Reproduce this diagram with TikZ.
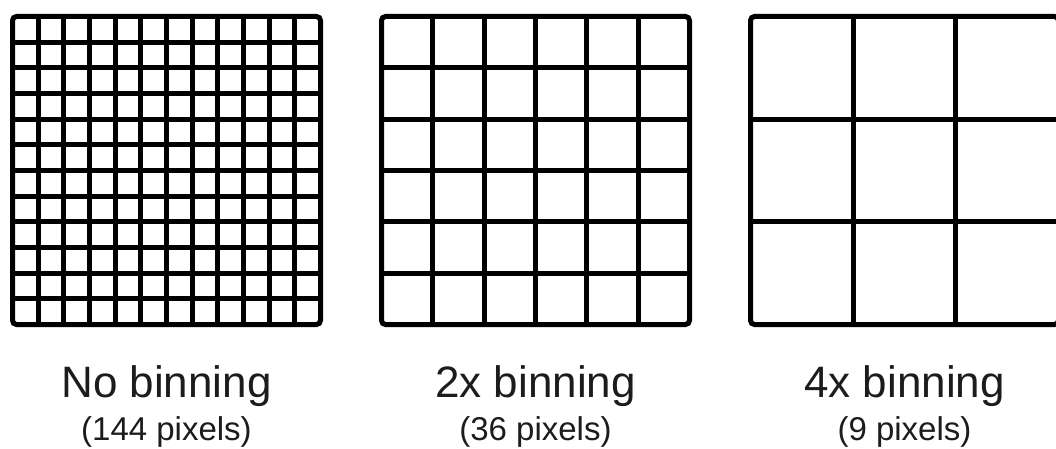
\documentclass[tikz,border=0pt]{standalone}
\usepackage{fontspec}
\setmainfont{Liberation Sans}
\definecolor{ink}{HTML}{1C1C1C}

\begin{document}
\begin{tikzpicture}[x=1pt, y=-1pt, line width=5pt,
    title/.style={anchor=base, text=ink, font=\fontsize{44}{48}\selectfont},
    count/.style={anchor=base, text=ink, font=\fontsize{33}{36}\selectfont}]
    % Page frame, the third grid runs off the right edge
    \useasboundingbox (0, 0) rectangle (1056, 449);
    \clip (0, 0) rectangle (1056, 449);

    % Define grid size
    \def\side{308} % Side of every grid
    \def\gtop{16.5} % Top edge of every grid

    % No binning (12 x 12 cells)
    \def\gx{12.5}
    \foreach \i in {1,...,11} {
        \draw (\gx + \i*\side/12, \gtop) -- ++(0, \side);
        \draw (\gx, \gtop + \i*\side/12) -- ++(\side, 0);
    }
    \draw[rounded corners=4pt] (\gx, \gtop) rectangle ++(\side, \side);

    % 2x binning (6 x 6 cells)
    \def\gx{381.5}
    \foreach \i in {1,...,5} {
        \draw (\gx + \i*\side/6, \gtop) -- ++(0, \side);
        \draw (\gx, \gtop + \i*\side/6) -- ++(\side, 0);
    }
    \draw[rounded corners=4pt] (\gx, \gtop) rectangle ++(\side, \side);

    % 4x binning (3 x 3 cells)
    \def\gx{750.5}
    \foreach \i in {1,2} {
        \draw (\gx + \i*\side/3, \gtop) -- ++(0, \side);
        \draw (\gx, \gtop + \i*\side/3) -- ++(\side, 0);
    }
    \draw[rounded corners=4pt] (\gx, \gtop) rectangle ++(\side, \side);

    % Labels under the grids
    \node[title] (nobin) at (166.5, 397) {No binning};
    \node[count] (nobinpx) at (166.5, 440) {(144 pixels)};
    \node[title] (twobin) at (535.5, 397) {2x binning};
    \node[count] (twobinpx) at (535.5, 440) {(36 pixels)};
    \node[title] (fourbin) at (904.5, 397) {4x binning};
    \node[count] (fourbinpx) at (904.5, 440) {(9 pixels)};
\end{tikzpicture}
\end{document}
